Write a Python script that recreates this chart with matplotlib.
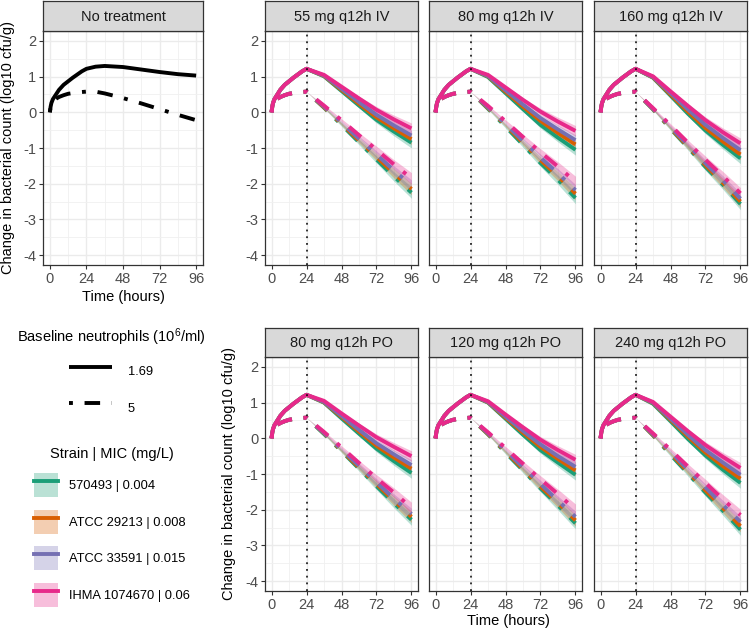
import matplotlib
matplotlib.use("Agg")
import matplotlib.pyplot as plt
from matplotlib.lines import Line2D
from matplotlib.patches import Patch
import numpy as np

plt.rcParams['font.family'] = ['Liberation Sans', 'DejaVu Sans']
plt.rcParams['mathtext.fontset'] = 'custom'
plt.rcParams['mathtext.rm'] = 'Liberation Sans'
plt.rcParams['mathtext.default'] = 'regular'

# ---- data ----
t_pre = [0, 0.5, 1, 2, 4, 6, 9, 12, 15, 18, 21, 24]
solid_pre = [0, 0.16, 0.26, 0.37, 0.50, 0.63, 0.77, 0.87, 0.97, 1.06, 1.15, 1.22]
dash_pre = [0, 0.16, 0.24, 0.31, 0.38, 0.43, 0.48, 0.52, 0.54, 0.56, 0.57, 0.58]

t_ctrl_post = [30, 36, 48, 60, 72, 84, 96]
ctrl_solid_post = [1.28, 1.30, 1.27, 1.20, 1.13, 1.07, 1.03]
ctrl_dash_post = [0.58, 0.53, 0.40, 0.25, 0.09, -0.07, -0.22]

t_post = [36, 48, 60, 72, 84, 96]
ci_solid = [0.02, 0.04, 0.06, 0.09, 0.12, 0.15]
ci_dash = [0.02, 0.04, 0.07, 0.10, 0.13, 0.16]

strains = ["570493 | 0.004", "ATCC 29213 | 0.008", "ATCC 33591 | 0.015", "IHMA 1074670 | 0.06"]
colors = ["#1B9E77", "#D95F02", "#7570B3", "#E7298A"]

regimens = ["55 mg q12h IV", "80 mg q12h IV", "160 mg q12h IV",
            "80 mg q12h PO", "120 mg q12h PO", "240 mg q12h PO"]

# values after 24 h, strains in order green, orange, purple, pink
solid_post = {
    "55 mg q12h IV": [[1.01, 0.60, 0.19, -0.21, -0.54, -0.85],
                      [1.02, 0.63, 0.24, -0.14, -0.45, -0.75],
                      [1.03, 0.66, 0.29, -0.07, -0.37, -0.65],
                      [1.05, 0.72, 0.39, 0.07, -0.20, -0.45]],
    "80 mg q12h IV": [[0.99, 0.54, 0.09, -0.35, -0.71, -1.05],
                      [1.01, 0.58, 0.16, -0.24, -0.58, -0.90],
                      [1.02, 0.62, 0.22, -0.16, -0.48, -0.78],
                      [1.05, 0.70, 0.35, 0.02, -0.26, -0.52]],
    "160 mg q12h IV": [[0.97, 0.47, -0.04, -0.51, -0.91, -1.29],
                       [0.98, 0.50, 0.02, -0.44, -0.82, -1.18],
                       [0.99, 0.54, 0.08, -0.35, -0.72, -1.06],
                       [1.01, 0.59, 0.18, -0.22, -0.56, -0.87]],
    "80 mg q12h PO": [[1.00, 0.56, 0.13, -0.29, -0.64, -0.97],
                      [1.01, 0.60, 0.19, -0.21, -0.54, -0.85],
                      [1.02, 0.63, 0.24, -0.14, -0.45, -0.75],
                      [1.05, 0.70, 0.36, 0.03, -0.24, -0.50]],
    "120 mg q12h PO": [[1.00, 0.55, 0.10, -0.33, -0.68, -1.02],
                       [1.01, 0.58, 0.16, -0.24, -0.58, -0.90],
                       [1.02, 0.61, 0.21, -0.17, -0.50, -0.80],
                       [1.04, 0.67, 0.31, -0.04, -0.33, -0.60]],
    "240 mg q12h PO": [[0.97, 0.48, -0.02, -0.48, -0.88, -1.25],
                       [0.99, 0.52, 0.05, -0.40, -0.78, -1.13],
                       [1.00, 0.55, 0.10, -0.33, -0.68, -1.02],
                       [1.02, 0.61, 0.20, -0.19, -0.52, -0.83]],
}
dash_post = {
    "55 mg q12h IV": [[0.13, -0.35, -0.84, -1.32, -1.80, -2.25],
                      [0.14, -0.32, -0.79, -1.25, -1.71, -2.15],
                      [0.16, -0.29, -0.74, -1.18, -1.63, -2.05],
                      [0.19, -0.22, -0.64, -1.05, -1.46, -1.85]],
    "80 mg q12h IV": [[0.10, -0.40, -0.91, -1.42, -1.89, -2.40],
                      [0.12, -0.36, -0.85, -1.34, -1.79, -2.28],
                      [0.14, -0.33, -0.80, -1.27, -1.71, -2.18],
                      [0.18, -0.25, -0.69, -1.12, -1.52, -1.95]],
    "160 mg q12h IV": [[0.08, -0.46, -0.99, -1.53, -2.03, -2.57],
                       [0.09, -0.44, -0.96, -1.48, -1.98, -2.50],
                       [0.10, -0.41, -0.92, -1.43, -1.91, -2.42],
                       [0.12, -0.36, -0.85, -1.33, -1.79, -2.27]],
    "80 mg q12h PO": [[0.12, -0.36, -0.85, -1.34, -1.82, -2.28],
                      [0.14, -0.34, -0.81, -1.28, -1.75, -2.20],
                      [0.15, -0.31, -0.77, -1.23, -1.69, -2.12],
                      [0.18, -0.25, -0.69, -1.12, -1.52, -1.95]],
    "120 mg q12h PO": [[0.11, -0.40, -0.90, -1.40, -1.88, -2.38],
                       [0.12, -0.37, -0.86, -1.35, -1.81, -2.30],
                       [0.14, -0.34, -0.81, -1.28, -1.75, -2.20],
                       [0.17, -0.27, -0.71, -1.15, -1.56, -2.00]],
    "240 mg q12h PO": [[0.08, -0.46, -0.99, -1.52, -2.03, -2.56],
                       [0.09, -0.42, -0.94, -1.46, -1.96, -2.46],
                       [0.11, -0.38, -0.88, -1.38, -1.87, -2.34],
                       [0.14, -0.32, -0.79, -1.25, -1.71, -2.15]],
}

# ---- layout (pixels) ----
W, H = 749, 634
FS = 10.5
FS_LEG = 9.3
DASH = (1, 3, 4, 3)
LW = 2.8

fig = plt.figure(figsize=(W / 100, H / 100), dpi=100)


def px(x0, y0, x1, y1):
    return [x0 / W, 1 - y1 / H, (x1 - x0) / W, (y1 - y0) / H]


def make_panel(title, x0, x1, ys, ylabels):
    s0, s1, p1 = ys
    ax = fig.add_axes(px(x0, s1, x1, p1))
    st = fig.add_axes(px(x0, s0, x1, s1))
    st.set_facecolor("#D9D9D9")
    st.set_xticks([])
    st.set_yticks([])
    for sp in st.spines.values():
        sp.set_color("#333333")
        sp.set_linewidth(0.9)
    st.text(0.5, 0.48, title, ha="center", va="center", fontsize=FS, color="#1A1A1A")

    ax.set_xlim(-4.5, 100.5)
    ax.set_ylim(-4.28, 2.28)
    ax.set_xticks([0, 24, 48, 72, 96])
    ax.set_xticks([12, 36, 60, 84], minor=True)
    ax.set_yticks(range(-4, 3))
    ax.set_yticks(np.arange(-3.5, 2, 1), minor=True)
    ax.set_yticklabels([str(v) for v in range(-4, 3)])
    ax.grid(which="major", color="#EBEBEB", lw=1.0)
    ax.grid(which="minor", color="#F0F0F0", lw=0.6)
    ax.set_axisbelow(True)
    for sp in ax.spines.values():
        sp.set_color("#333333")
        sp.set_linewidth(0.9)
    ax.tick_params(which="major", length=2.8, width=0.8, color="#333333",
                   labelsize=FS, labelcolor="#4D4D4D", pad=2)
    ax.tick_params(which="minor", length=0)
    if not ylabels:
        ax.tick_params(axis="y", which="both", left=False, labelleft=False)
    return ax


top = (1, 31, 265)
bot = (328, 357, 591)
cols = [(265, 418), (429, 582), (594, 747)]

# no treatment panel
ax0 = make_panel("No treatment", 43, 203, top, True)
ax0.plot(t_pre + t_ctrl_post, solid_pre + ctrl_solid_post, color="black", lw=LW,
         solid_capstyle="butt")
ax0.plot(t_pre + t_ctrl_post, dash_pre + ctrl_dash_post, color="black", lw=LW,
         dashes=DASH, dash_capstyle="butt")

t_all = t_pre + t_post
for i, reg in enumerate(regimens):
    ys = top if i < 3 else bot
    x0, x1 = cols[i % 3]
    ax = make_panel(reg, x0, x1, ys, i == 3 or i == 0)
    for k in range(4):
        s = np.array(solid_pre + solid_post[reg][k])
        d = np.array(dash_pre + dash_post[reg][k])
        cs = np.array([0] * len(t_pre) + ci_solid)
        cd = np.array([0] * len(t_pre) + ci_dash)
        ax.fill_between(t_all, s - cs, s + cs, color=colors[k], alpha=0.3, lw=0)
        ax.fill_between(t_all, d - cd, d + cd, color=colors[k], alpha=0.3, lw=0)
    for k in range(4):
        s = solid_pre + solid_post[reg][k]
        d = dash_pre + dash_post[reg][k]
        ax.plot(t_all, s, color=colors[k], lw=LW, solid_capstyle="butt")
        ax.plot(t_all, d, color=colors[k], lw=LW, dashes=DASH, dash_capstyle="butt")
    ax.axvline(24, color="black", lw=1.1, dashes=(1.2, 3.2), zorder=5)

# axis titles
ylab = "Change in bacterial count (log10 cfu/g)"
fig.text(8 / W, 1 - 148 / H, ylab, rotation=90, ha="center", va="center", fontsize=FS)
fig.text(229 / W, 1 - 474 / H, ylab, rotation=90, ha="center", va="center", fontsize=FS)
fig.text(123 / W, 1 - 297 / H, "Time (hours)", ha="center", va="center", fontsize=FS)
fig.text(508 / W, 1 - 621 / H, "Time (hours)", ha="center", va="center", fontsize=FS)

# legends
h1 = [Line2D([], [], color="black", lw=LW, solid_capstyle="butt"),
      Line2D([], [], color="black", lw=LW, dashes=DASH, dash_capstyle="butt")]
leg1 = fig.legend(h1, ["1.69", "5"], loc="upper center",
                  bbox_to_anchor=(111 / W, 1 - 315 / H), frameon=False,
                  fontsize=FS_LEG, title="Baseline neutrophils (10$^{6}$/ml)",
                  title_fontsize=FS, handlelength=3.33, handleheight=2.7,
                  handletextpad=1.24, labelspacing=0.8)

h2 = [(Patch(facecolor=c, alpha=0.3, edgecolor="none"),
       Line2D([], [], color=c, lw=LW)) for c in colors]
leg2 = fig.legend(h2, strains, loc="upper center",
                  bbox_to_anchor=(112 / W, 1 - 435 / H), frameon=False,
                  fontsize=FS_LEG, title="Strain | MIC (mg/L)", title_fontsize=FS,
                  handlelength=1.86, handleheight=2.48, handletextpad=0.85,
                  labelspacing=0.97)

fig.savefig("out.png", dpi=100)
